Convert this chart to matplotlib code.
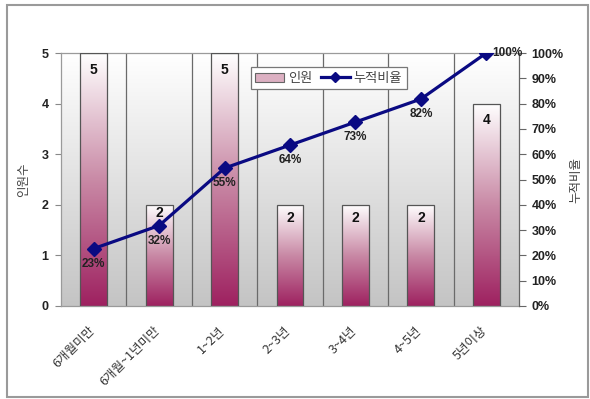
import numpy as np
import matplotlib
matplotlib.use("Agg")
import matplotlib.pyplot as plt
import matplotlib.transforms as mtransforms
from matplotlib.colors import LinearSegmentedColormap
from matplotlib.lines import Line2D
from matplotlib.patches import Patch, Rectangle

plt.rcParams['font.family'] = ['Noto Sans CJK KR', 'DejaVu Sans']

categories = ['6개월미만', '6개월~1년미만', '1~2년', '2~3년', '3~4년', '4~5년', '5년이상']
counts = [5, 2, 5, 2, 2, 2, 4]
cum_ratio = [0.227, 0.318, 0.545, 0.636, 0.727, 0.818, 1.0]
cum_labels = ['23%', '32%', '55%', '64%', '73%', '82%', '100%']
left_ticks = [0, 1, 2, 3, 4, 5]
right_ticks = [0, 0.1, 0.2, 0.3, 0.4, 0.5, 0.6, 0.7, 0.8, 0.9, 1.0]

fig = plt.figure(figsize=(5.9, 3.99), dpi=100)
W, H = 590, 399
ax = fig.add_axes([61 / W, 1 - 306 / H, (519 - 61) / W, (306 - 53) / H])
ax.set_facecolor('none')

# outer frame
fig.patches.append(Rectangle((7 / W, 2 / H), (588 - 7) / W, (394 - 2) / H,
                             transform=fig.transFigure, fill=False,
                             edgecolor='#9a9a9a', linewidth=1.5))

# plot-area background gradient (white top -> gray bottom)
bg = LinearSegmentedColormap.from_list('bg', ['#c4c4c4', '#ffffff'])
grad = np.linspace(0, 1, 256).reshape(-1, 1)
ax.imshow(grad, cmap=bg, origin='lower', extent=[0, 1, 0, 1], aspect='auto',
          transform=ax.transAxes, zorder=0)

x = np.arange(len(categories))

# vertical separators
for b in np.arange(0.5, len(categories) - 0.5, 1.0):
    ax.axvline(b, color='#6a6a6a', linewidth=0.9, zorder=1)

bar_cmap = LinearSegmentedColormap.from_list('bar', ['#9e2160', '#c98aa6', '#ffffff'])
bars = ax.bar(x, counts, width=0.41, facecolor='none', edgecolor='#555555',
              linewidth=0.9, zorder=3)
label_offsets = [-12.5, -6, -12.5, -9.5, -9.5, -9.5, -12]
for b, off in zip(bars, label_offsets):
    bx, bw, bh = b.get_x(), b.get_width(), b.get_height()
    im = ax.imshow(grad, cmap=bar_cmap, origin='lower',
                   extent=[bx, bx + bw, 0, bh], aspect='auto', zorder=2)
    im.set_clip_path(b)
    ax.annotate(str(int(bh)), (bx + bw / 2, bh), xytext=(0, off),
                textcoords='offset points', ha='center', va='center',
                fontsize=10, fontweight='bold', color='#111111',
                family=['Liberation Sans', 'DejaVu Sans'], zorder=6)

ax.set_aspect('auto')
ax.set_xlim(-0.5, len(categories) - 0.5)
ax.set_ylim(0, 5)

ax.set_yticks(left_ticks)
ax.set_yticklabels([str(t) for t in left_ticks], fontsize=9, fontweight='bold',
                   family=['Liberation Sans', 'DejaVu Sans'], color='#222222')
ax.tick_params(axis='y', length=4, color='#888888', pad=5)
ax.set_xticks(x)
ax.set_xticklabels(categories, rotation=45, ha='right', va='top',
                   rotation_mode='anchor', fontsize=9, color='#333333')
ax.tick_params(axis='x', length=0, pad=13)
shift = mtransforms.ScaledTranslation(-6 / 100, 0, fig.dpi_scale_trans)
for lab in ax.get_xticklabels():
    lab.set_transform(lab.get_transform() + shift)
for s in ax.spines.values():
    s.set_color('#9a9a9a')
    s.set_linewidth(0.9)
ax.set_ylabel('인원수', fontsize=9, color='#444444', labelpad=8)

ax2 = ax.twinx()
ax2.set_ylim(0, 1.0)
ax2.set_facecolor('none')
ax2.plot(x, cum_ratio, color='#0a0a82', linewidth=2.3, marker='D',
         markersize=7, zorder=5)
for i, (xi, v, lab) in enumerate(zip(x, cum_ratio, cum_labels)):
    if i == len(x) - 1:
        ax2.annotate(lab, (xi, v), xytext=(4, 0), textcoords='offset points',
                     ha='left', va='center', fontsize=8.5, fontweight='bold',
                     color='#222222', family=['Liberation Sans', 'DejaVu Sans'])
    else:
        ax2.annotate(lab, (xi, v), xytext=(0, -11), textcoords='offset points',
                     ha='center', va='center', fontsize=8.5, fontweight='bold',
                     color='#222222', family=['Liberation Sans', 'DejaVu Sans'])
ax2.set_yticks(right_ticks)
ax2.set_yticklabels([f'{int(round(t * 100))}%' for t in right_ticks], fontsize=9,
                    fontweight='bold', family=['Liberation Sans', 'DejaVu Sans'],
                    color='#222222')
ax2.tick_params(axis='y', length=5, color='#666666', pad=4)
for name, s in ax2.spines.items():
    s.set_visible(name == 'right')
ax2.spines['right'].set_color('#666666')
ax2.set_ylabel('누적비율', fontsize=9, color='#444444', rotation=90, labelpad=4)

handles = [Patch(facecolor='#dcb0c2', edgecolor='#666666', linewidth=0.8),
           Line2D([0], [0], color='#0a0a82', linewidth=2.3, marker='D', markersize=5)]
leg = ax2.legend(handles, ['인원', '누적비율'], ncol=2, loc='upper left',
                 bbox_to_anchor=(0.40, 0.97), fontsize=9.5, frameon=True,
                 fancybox=False, edgecolor='#777777', framealpha=1,
                 handlelength=2.2, handletextpad=0.3, columnspacing=0.6,
                 borderpad=0.35)
leg.get_frame().set_linewidth(0.9)
for t in leg.get_texts():
    t.set_color('#444444')

fig.savefig('out.png', dpi=100)
